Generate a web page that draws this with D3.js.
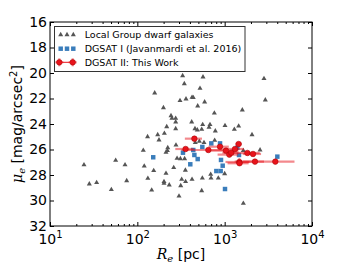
<!DOCTYPE html>
<html>
<head>
<meta charset="utf-8">
<script src="https://cdn.jsdelivr.net/npm/d3@7"></script>
<style>
  body { margin: 0; background: #fff; }
  svg { display: block; font-family: "DejaVu Sans", sans-serif; }
</style>
</head>
<body>
<svg width="340" height="272"></svg>
<script>
// Local Group dwarf galaxies: Re [pc], mu_e [mag/arcsec^2]
const lgR = [24.5, 28.2, 34.2, 50.4, 56.5, 72.3, 75.5, 117, 120, 131, 132, 146, 154, 158, 171, 177,
  199, 204, 202, 202, 213, 221, 223, 213, 217, 232, 243, 249, 275, 275, 277, 285, 261, 308, 275, 419,
  311, 348, 322, 314, 300, 330, 345, 361, 355, 357, 423, 423, 437, 457, 486, 513, 491, 522, 555, 546,
  565, 560, 546, 590, 580, 662, 679, 692, 698, 846, 782, 768, 762, 1009, 1000, 1291, 1446, 1592, 1636,
  2056, 2541, 2820, 2921, 1636, 461];
const lgMu = [27.2, 28.7, 28.6, 29.15, 26.85, 27.2, 28.45, 26.07, 27.3, 25.0, 28.26, 29.18, 27.66, 21.57,
  24.84, 25.25, 22.72, 24.73, 28.52, 28.65, 26.22, 26.09, 25.86, 27.87, 24.21, 28.78, 23.35, 23.56, 23.56,
  24.37, 25.65, 26.69, 27.42, 22.17, 23.84, 23.84, 26.72, 26.72, 28.34, 28.84, 29.65, 20.21, 20.84, 22.04,
  27.63, 28.52, 28.34, 21.91, 21.93, 24.37, 24.47, 25.36, 22.59, 21.2, 28.24, 29.23, 20.31, 24.05, 24.42,
  22.27, 25.46, 24.26, 24.05, 27.95, 28.24, 28.24, 24.55, 25.28, 23.14, 24.13, 27.9, 24.42, 24.16, 22.9,
  30.22, 24.84, 26.04, 20.44, 22.12, 26.09, 25.46];

// DGSAT I (Javanmardi et al. 2016)
const d1R = [152, 333, 404, 437, 450, 491, 555, 703, 885, 908, 949, 803, 900, 1009, 1459, 1396, 4009];
const d1Mu = [26.61, 26.25, 27.16, 26.04, 26.43, 26.75, 25.8, 25.52, 25.52, 26.82, 27.27, 27.69, 27.69,
  29.1, 26.43, 25.86, 26.56];

// DGSAT II: This Work
const d2R = [450, 357, 650, 885, 1035, 1130, 1191, 1313, 1446, 1820, 2110, 1472, 1480, 2223, 3802];
const d2Mu = [25.15, 25.96, 26.04, 25.78, 26.09, 26.4, 26.25, 25.96, 25.57, 26.27, 26.35, 26.98, 27.08, 26.95, 26.95];
const d2Rerr = [100, 85, 330, 230, 400, 300, 250, 350, 120, 700, 500, 450, 400, 600, 2500];
const d2MuErr = [0.15, 0.1, 0.1, 0.1, 0.1, 0.1, 0.1, 0.1, 0.15, 0.1, 0.1, 0.3, 0.2, 0.1, 0.1];

const xMajor = [10, 100, 1000, 10000];
const xExp = ["1", "2", "3", "4"];
const yTicks = [16, 18, 20, 22, 24, 26, 28, 30, 32];
const legendLabels = ["Local Group dwarf galaxies", "DGSAT I (Javanmardi et al. 2016)", "DGSAT II: This Work"];

const pL = 50, pR = 312, pT = 22, pB = 226;
const svg = d3.select("svg");

const x = d3.scaleLog().domain([10, 1e4]).range([pL, pR]);
const y = d3.scaleLinear().domain([16, 32]).range([pT, pB]);

const triColor = "#555555", blue = "#3a7dbb", red = "#e8131b";

// minor log ticks
const xMinor = [];
[10, 100, 1000].forEach(d => { for (let k = 2; k < 10; k++) xMinor.push(d * k); });

// axes
const gB = svg.append("g").attr("transform", `translate(0,${pB})`)
  .call(d3.axisBottom(x).tickValues(xMajor).tickSize(-4).tickPadding(5).tickFormat(""));
svg.append("g").attr("transform", `translate(0,${pB})`)
  .call(d3.axisBottom(x).tickValues(xMinor).tickSize(-2).tickFormat(""));
svg.append("g").attr("transform", `translate(0,${pT})`)
  .call(d3.axisTop(x).tickValues(xMajor).tickSize(-4).tickFormat(""));
svg.append("g").attr("transform", `translate(0,${pT})`)
  .call(d3.axisTop(x).tickValues(xMinor).tickSize(-2).tickFormat(""));
const gL = svg.append("g").attr("transform", `translate(${pL},0)`)
  .call(d3.axisLeft(y).tickValues(yTicks).tickSize(-4).tickPadding(3));
svg.append("g").attr("transform", `translate(${pR},0)`)
  .call(d3.axisRight(y).tickValues(yTicks).tickSize(-4).tickFormat(""));

svg.selectAll(".domain").remove();
svg.selectAll(".tick line").attr("stroke", "#000").attr("stroke-width", 1);

gL.selectAll(".tick text").attr("font-size", 14).attr("fill", "#000")
  .attr("font-family", "DejaVu Sans");

// x tick labels with superscripts
gB.selectAll(".tick").each(function(d, i) {
  const t = d3.select(this).append("text")
    .attr("y", 17.5).attr("text-anchor", "middle").attr("fill", "#000")
    .attr("font-size", 14).attr("font-family", "DejaVu Sans");
  t.append("tspan").text("10");
  t.append("tspan").attr("dy", -6).attr("font-size", 10).text(xExp[i]);
});

// frame
svg.append("rect").attr("x", pL).attr("y", pT)
  .attr("width", pR - pL).attr("height", pB - pT)
  .attr("fill", "none").attr("stroke", "#000").attr("stroke-width", 1);

const plot = svg.append("g");

// triangles
plot.selectAll(".tri").data(lgR).join("path")
  .attr("class", "tri")
  .attr("d", d3.symbol(d3.symbolTriangle, 11))
  .attr("transform", (d, i) => `translate(${x(d)},${y(lgMu[i])})`)
  .attr("fill", triColor);

// squares
plot.selectAll(".sq").data(d1R).join("path")
  .attr("class", "sq")
  .attr("d", d3.symbol(d3.symbolSquare, 20))
  .attr("transform", (d, i) => `translate(${x(d)},${y(d1Mu[i])})`)
  .attr("fill", blue);

// error bars
const eb = plot.selectAll(".eb").data(d2R).join("g").attr("class", "eb")
  .attr("stroke", red).attr("stroke-opacity", 0.5).attr("stroke-width", 2.2);
eb.append("line")
  .attr("x1", (d, i) => x(d - d2Rerr[i])).attr("x2", (d, i) => x(d + d2Rerr[i]))
  .attr("y1", (d, i) => y(d2Mu[i])).attr("y2", (d, i) => y(d2Mu[i]));
eb.append("line")
  .attr("x1", d => x(d)).attr("x2", d => x(d))
  .attr("y1", (d, i) => y(d2Mu[i] - d2MuErr[i])).attr("y2", (d, i) => y(d2Mu[i] + d2MuErr[i]));

plot.selectAll(".pt").data(d2R).join("circle")
  .attr("class", "pt")
  .attr("cx", d => x(d)).attr("cy", (d, i) => y(d2Mu[i]))
  .attr("r", 2.8).attr("fill", red).attr("stroke", "#a00000").attr("stroke-width", 0.5);

// legend
const lg = svg.append("g");
lg.append("rect").attr("x", 54.5).attr("y", 26.5).attr("width", 190.5).attr("height", 45)
  .attr("fill", "#fff").attr("stroke", "#333").attr("stroke-width", 1);
const rowY = [34.7, 48.7, 62.3];
[60.7, 67, 73.3].forEach(px => {
  lg.append("path").attr("d", d3.symbol(d3.symbolTriangle, 11)())
    .attr("transform", `translate(${px},${rowY[0]})`).attr("fill", triColor);
  lg.append("path").attr("d", d3.symbol(d3.symbolSquare, 20)())
    .attr("transform", `translate(${px},${rowY[1]})`).attr("fill", blue);
});
[59.3, 72.7].forEach(px => {
  lg.append("line").attr("x1", px - 4).attr("x2", px + 4).attr("y1", rowY[2]).attr("y2", rowY[2])
    .attr("stroke", red).attr("stroke-opacity", 0.5).attr("stroke-width", 2.2);
  lg.append("line").attr("x1", px).attr("x2", px).attr("y1", rowY[2] - 4).attr("y2", rowY[2] + 4)
    .attr("stroke", red).attr("stroke-opacity", 0.5).attr("stroke-width", 2.2);
  lg.append("circle").attr("cx", px).attr("cy", rowY[2]).attr("r", 2.8)
    .attr("fill", red).attr("stroke", "#a00000").attr("stroke-width", 0.5);
});
lg.append("line").attr("x1", 59.3).attr("x2", 72.7).attr("y1", rowY[2]).attr("y2", rowY[2])
  .attr("stroke", red).attr("stroke-width", 1);
legendLabels.forEach((t, i) => {
  lg.append("text").attr("x", 84.7).attr("y", rowY[i]).attr("dy", "0.35em")
    .attr("font-size", 9.5).attr("fill", "#000").text(t);
});

// axis labels
const xl = svg.append("text").attr("x", 181).attr("y", 259).attr("text-anchor", "middle")
  .attr("font-size", 14).attr("fill", "#000");
xl.append("tspan").attr("font-family", "DejaVu Serif").attr("font-style", "italic").text("R");
xl.append("tspan").attr("font-family", "DejaVu Serif").attr("font-style", "italic")
  .attr("font-size", 10).attr("dy", 3).text("e");
xl.append("tspan").attr("dy", -3).text(" [pc]");

const yl = svg.append("text").attr("transform", "translate(22,124) rotate(-90)")
  .attr("text-anchor", "middle").attr("font-size", 14).attr("fill", "#000");
yl.append("tspan").attr("font-family", "DejaVu Serif").attr("font-style", "italic").text("μ");
yl.append("tspan").attr("font-family", "DejaVu Serif").attr("font-style", "italic")
  .attr("font-size", 10).attr("dy", 3).text("e");
yl.append("tspan").attr("dy", -3).text(" [mag/arcsec");
yl.append("tspan").attr("dy", -5).attr("font-size", 10).text("2");
yl.append("tspan").attr("dy", 5).text("]");
</script>
</body>
</html>
